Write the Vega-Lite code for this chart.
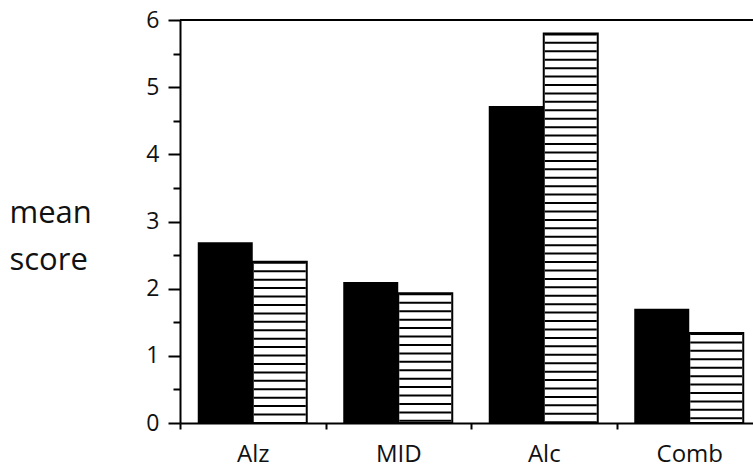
{
  "$schema": "https://vega.github.io/schema/vega-lite/v6.json",
  "width": 573,
  "height": 403,
  "autosize": {"type": "none"},
  "padding": {"left": 180, "top": 20, "right": 0, "bottom": 48},
  "background": "white",
  "config": {
    "view": {"stroke": null},
    "font": "Open Sans",
    "axis": {
      "domainWidth": 2, "domainColor": "black", "tickWidth": 2, "tickColor": "black",
      "labelColor": "#111", "labelFont": "Open Sans", "grid": false
    },
    "axisX": {"labelAngle": 0, "tickBand": "extent", "tickSize": 6, "labelPadding": 13, "labelFontSize": 24},
    "axisY": {"labelPadding": 9, "tickSize": 12, "labelFontSize": 23}
  },
  "data": {
    "values": [
      {"cat": "Alz", "group": "A", "value": 2.69},
      {"cat": "Alz", "group": "B", "value": 2.40},
      {"cat": "MID", "group": "A", "value": 2.10},
      {"cat": "MID", "group": "B", "value": 1.93},
      {"cat": "Alc", "group": "A", "value": 4.72},
      {"cat": "Alc", "group": "B", "value": 5.80},
      {"cat": "Comb", "group": "A", "value": 1.70},
      {"cat": "Comb", "group": "B", "value": 1.34}
    ]
  },
  "encoding": {
    "x": {
      "field": "cat", "type": "nominal", "sort": ["Alz", "MID", "Alc", "Comb"],
      "scale": {"range": [0, 582], "paddingInner": 0, "paddingOuter": 0},
      "axis": {"title": null}
    },
    "y": {
      "field": "value", "type": "quantitative",
      "scale": {"domain": [0, 6], "nice": false},
      "axis": {
        "title": ["mean", "score"], "titleAngle": 0, "titleAlign": "left",
        "titleBaseline": "alphabetic", "titleX": -171, "titleY": 202,
        "titleFontSize": 31, "titleFont": "Open Sans", "titleFontWeight": "normal",
        "titleLineHeight": 47, "titleColor": "#111",
        "values": [0, 0.5, 1, 1.5, 2, 2.5, 3, 3.5, 4, 4.5, 5, 5.5, 6],
        "labelOverlap": false,
        "labelExpr": "datum.value % 1 === 0 ? format(datum.value, 'd') : ''",
        "tickSize": {"condition": {"test": "datum.value % 1 === 0", "value": 12}, "value": 7}
      }
    }
  },
  "layer": [
    {
      "transform": [{"filter": "datum.group === 'A'"}],
      "mark": {"type": "bar", "width": 55, "xOffset": -27.5, "color": "black"}
    },
    {
      "transform": [{"filter": "datum.group === 'B'"}],
      "mark": {"type": "bar", "width": 54, "xOffset": 27, "fill": "white", "stroke": "black", "strokeWidth": 2}
    },
    {
      "transform": [{"filter": "datum.group === 'B'"}],
      "mark": {"type": "rule", "xOffset": 27, "strokeWidth": 52, "strokeDash": [2, 6.43], "color": "black", "strokeCap": "butt"},
      "encoding": {"y2": {"datum": 0}}
    },
    {
      "mark": {"type": "rule", "strokeWidth": 2, "color": "black"},
      "encoding": {"x": {"value": 0}, "x2": {"value": "width"}, "y": {"datum": 6}}
    }
  ]
}
